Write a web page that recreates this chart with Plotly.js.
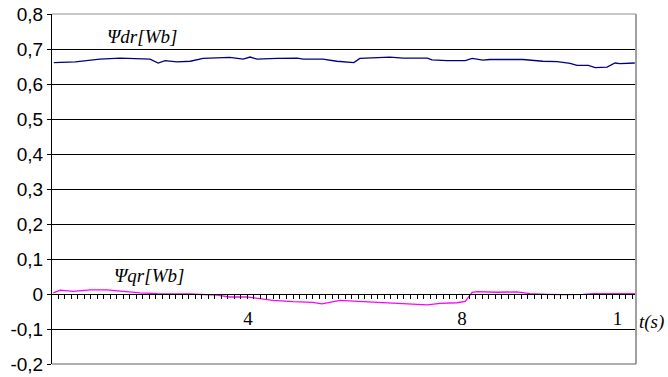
<!DOCTYPE html>
<html>
<head>
<meta charset="utf-8">
<script src="https://cdn.plot.ly/plotly-3.0.1.min.js"></script>
<style>html,body{margin:0;padding:0;background:#fff;}#chart{width:668px;height:377px;}</style>
</head>
<body>
<div id="chart"></div>
<script>
// Psi_dr [Wb]
var tDr = [0.037, 0.077, 0.123, 0.161, 0.217, 0.232, 0.245, 0.267, 0.292, 0.316, 0.366, 0.391, 0.404, 0.417, 0.454, 0.492, 0.503, 0.540, 0.566, 0.591, 0.598, 0.609, 0.628, 0.665, 0.690, 0.735, 0.744, 0.772, 0.806, 0.819, 0.839, 0.852, 0.914, 0.951, 0.978, 1.002, 1.015, 1.036, 1.049, 1.071, 1.086, 1.095, 1.123];
var psiDr = [0.661, 0.663, 0.671, 0.674, 0.671, 0.660, 0.667, 0.663, 0.665, 0.673, 0.676, 0.671, 0.677, 0.671, 0.673, 0.674, 0.671, 0.671, 0.665, 0.663, 0.661, 0.673, 0.675, 0.677, 0.674, 0.674, 0.669, 0.667, 0.667, 0.673, 0.668, 0.670, 0.670, 0.665, 0.664, 0.659, 0.653, 0.653, 0.647, 0.648, 0.660, 0.658, 0.660];
// Psi_qr [Wb]
var tQr = [0.036, 0.049, 0.073, 0.105, 0.136, 0.166, 0.198, 0.230, 0.292, 0.342, 0.366, 0.398, 0.422, 0.447, 0.484, 0.521, 0.538, 0.559, 0.572, 0.615, 0.665, 0.708, 0.735, 0.759, 0.791, 0.806, 0.819, 0.828, 0.865, 0.903, 0.927, 0.959, 0.989, 1.026, 1.045, 1.082, 1.123];
var psiQr = [0.003, 0.011, 0.0075, 0.012, 0.012, 0.0075, 0.003, 0.001, 0.000, -0.003, -0.0085, -0.0085, -0.0125, -0.018, -0.022, -0.024, -0.028, -0.021, -0.018, -0.022, -0.025, -0.028, -0.031, -0.027, -0.025, -0.021, 0.005, 0.007, 0.005, 0.006, 0.001, -0.001, -0.002, -0.001, 0.001, 0.001, 0.001];
// axis ticks
var yTickVals = [-0.2, -0.1, 0, 0.1, 0.2, 0.3, 0.4, 0.5, 0.6, 0.7, 0.8];
var yTickText = ['-0,2', '-0,1', '0', '0,1', '0,2', '0,3', '0,4', '0,5', '0,6', '0,7', '0,8'];
var xTickVals = [0.4, 0.8, 1.0907];
var xTickText = ['4', '8', '1'];

var traces = [
  {x: tDr, y: psiDr, type: 'scatter', mode: 'lines', line: {color: '#000080', width: 1.3}, hoverinfo: 'skip'},
  {x: tQr, y: psiQr, type: 'scatter', mode: 'lines', line: {color: '#ff00ff', width: 1.3}, hoverinfo: 'skip'}
];

var serif = 'Liberation Serif';
var sans = 'Liberation Sans';
var layout = {
  width: 668, height: 377,
  margin: {l: 52, r: 31.5, t: 14, b: 12.7, pad: 0},
  paper_bgcolor: '#fff', plot_bgcolor: '#fff',
  showlegend: false,
  xaxis: {
    range: [0.0336, 1.1252],
    anchor: 'free', position: 0.2,
    showline: true, linecolor: '#000', linewidth: 1,
    showgrid: false, zeroline: false,
    tickmode: 'array', tickvals: xTickVals, ticktext: xTickText,
    ticks: '', ticklabelstandoff: 7,
    tickfont: {family: serif, size: 19, color: '#000'},
    minor: {tickmode: 'linear', tick0: 0.0449, dtick: 0.0122, ticks: 'outside', ticklen: 4, tickcolor: '#000', tickwidth: 1, showgrid: false}
  },
  yaxis: {
    range: [-0.2, 0.8],
    domain: [0, 1],
    tickmode: 'array', tickvals: yTickVals, ticktext: yTickText,
    ticks: 'outside', ticklen: 4, tickcolor: '#000',
    showline: true, linecolor: '#000', linewidth: 1,
    showgrid: true, gridcolor: '#000', gridwidth: 1,
    zeroline: false,
    tickfont: {family: sans, size: 19, color: '#000'}
  },
  shapes: [
    {type: 'line', xref: 'paper', yref: 'paper', x0: 0, x1: 1, y0: 1, y1: 1, line: {color: '#909090', width: 1}},
    {type: 'line', xref: 'paper', yref: 'paper', x0: 1, x1: 1, y0: 0, y1: 1, line: {color: '#a0a0a0', width: 2}},
    {type: 'line', xref: 'paper', yref: 'paper', x0: 0, x1: 1, y0: 0, y1: 0, line: {color: '#606060', width: 1}}
  ],
  annotations: [
    {x: 0.201, y: 0.737, xref: 'x', yref: 'y', text: '<i>Ψdr[Wb]</i>', showarrow: false, font: {family: serif, size: 19, color: '#000'}},
    {x: 0.214, y: 0.052, xref: 'x', yref: 'y', text: '<i>Ψqr[Wb]</i>', showarrow: false, font: {family: serif, size: 19, color: '#000'}},
    {x: 1.002, y: -0.08, xref: 'paper', yref: 'y', xanchor: 'left', text: '<i>t(s)</i>', showarrow: false, font: {family: serif, size: 19, color: '#000'}}
  ]
};
Plotly.newPlot('chart', traces, layout, {staticPlot: true, displayModeBar: false});
</script>
</body>
</html>
